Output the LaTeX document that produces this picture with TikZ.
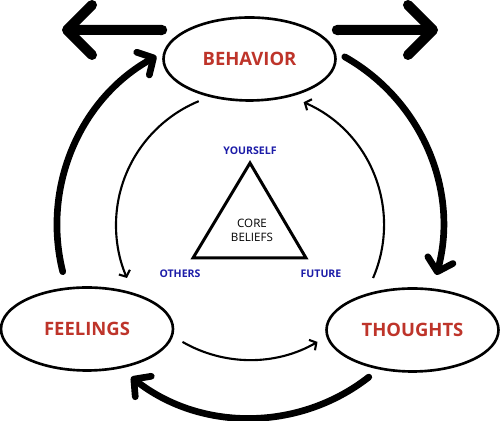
\documentclass[tikz,border=0pt]{standalone}
\usepackage{fontspec}
\setmainfont{Open Sans}
\usetikzlibrary{shapes.geometric,arrows.meta}
\definecolor{bred}{RGB}{190,52,42}
\definecolor{bblue}{RGB}{28,28,168}
\tikzset{
  state/.style={ellipse,draw,line width=1.5pt,minimum width=3.44cm,minimum height=1.66cm,inner sep=0pt,text=bred,font=\bfseries\fontsize{10.5}{12}\selectfont},
  corner/.style={text=bblue,font=\bfseries\fontsize{6}{7}\selectfont},
  big arrow/.style={line width=5.7pt,line cap=round,-{Straight Barb[round,length=0.5cm,width=1cm]}},
  cycle arrow/.style={line width=3.8pt,line cap=round,-{Straight Barb[round,length=0.24cm,width=0.52cm]}},
  inner arrow/.style={line width=1.2pt,-{Straight Barb[length=0.1cm,width=0.24cm]}}
}

\begin{document}
\begin{tikzpicture}[x=0.02cm,y=0.02cm]
    \useasboundingbox[fill=white] (0,0) rectangle (500,421);

    % states
    \node[state] (beh) at (249.5,362) {BEHAVIOR};
    \node[state] (feel) at (87,92) {FEELINGS};
    \node[state] (thou) at (412.5,91) {THOUGHTS};

    % arrows out of behavior
    \coordinate (left tip) at (62,391);
    \coordinate (right tip) at (438,391);
    \draw[big arrow] ([yshift=0.58cm]beh.west) -- (left tip);
    \draw[big arrow] ([yshift=0.58cm]beh.east) -- (right tip);

    % outer cycle
    \coordinate (ctr) at (250,196);
    \draw[cycle arrow] ([shift={(194:193)}]ctr) arc [start angle=194, end angle=119, radius=193];
    \draw[cycle arrow] ([shift={(60.6:193)}]ctr) arc [start angle=60.6, end angle=-15, radius=193];
    \draw[cycle arrow] ([shift={(-52:193)}]ctr) arc [start angle=-52, end angle=-128, radius=193];

    % inner cycle
    \draw[inner arrow] ([shift={(112.5:134)}]ctr) arc [start angle=112.5, end angle=203.3, radius=134];
    \draw[inner arrow] ([shift={(240:135)}]ctr) arc [start angle=240, end angle=300, radius=135];
    \draw[inner arrow] ([shift={(-23.3:134)}]ctr) arc [start angle=-23.3, end angle=66.4, radius=134];

    % core beliefs triangle
    \coordinate (you) at (250,258);
    \coordinate (oth) at (193,163);
    \coordinate (fut) at (306,163);
    \draw[line width=1.7pt,line join=miter] (you) -- (oth) -- (fut) -- cycle;
    \node[align=center,font=\fontsize{6.6}{8}\selectfont] (core) at (252,191) {CORE\\BELIEFS};
    \node[corner,above=1.5pt] (yourself) at (you) {YOURSELF};
    \node[corner] (others) at (180,147) {OTHERS};
    \node[corner] (future) at (321,147) {FUTURE};
\end{tikzpicture}
\end{document}
